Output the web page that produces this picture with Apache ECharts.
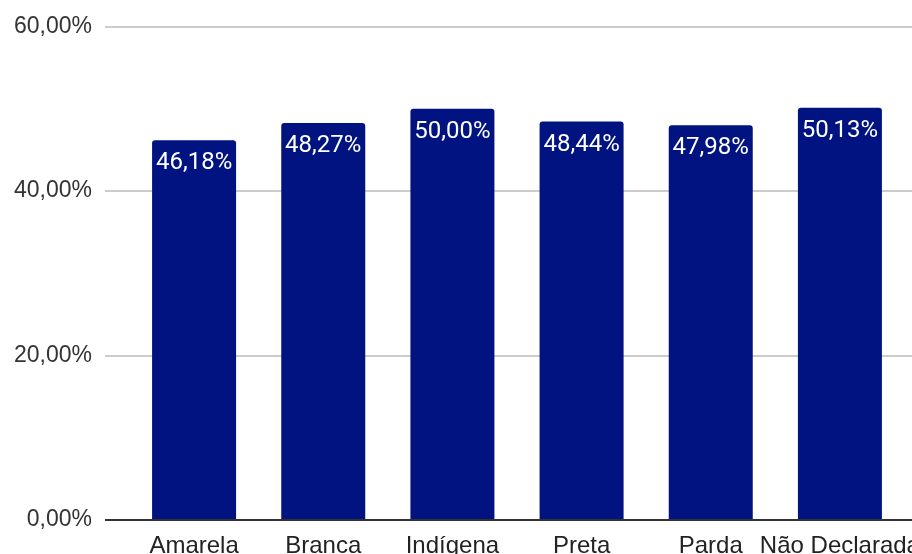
<!DOCTYPE html>
<html>
<head>
<meta charset="utf-8">
<script src="https://cdn.jsdelivr.net/npm/echarts@6/dist/echarts.min.js"></script>
<style>
  html, body { margin: 0; padding: 0; background: #fff; }
  #chart { width: 912px; height: 554px; }
</style>
</head>
<body>
<div id="chart"></div>
<script>
// Share of each group (percent)
const categories = ['Amarela', 'Branca', 'Indígena', 'Preta', 'Parda', 'Não Declarada'];
const values = [46.18, 48.27, 50.00, 48.44, 47.98, 50.13];
const yTicks = [0, 20, 40, 60];

const fmtPct = v => v.toFixed(2).replace('.', ',') + '%';
const labelFont = '"Liberation Sans", Arial, sans-serif';
const valueFont = 'Roboto, "Liberation Sans", Arial, sans-serif';

const chart = echarts.init(document.getElementById('chart'));
chart.setOption({
  backgroundColor: '#ffffff',
  animation: false,
  grid: [
    // full-width plot area for gridlines and the value axis
    { left: 105, right: -20, top: 26.5, bottom: 34, outerBoundsMode: 'none', containLabel: false },
    // inner area where the category bars sit
    { left: 129.5, width: 775, top: 26.5, bottom: 34, outerBoundsMode: 'none', containLabel: false }
  ],
  xAxis: [
    {
      gridIndex: 0, type: 'value', min: 0, max: 1, show: true,
      axisLine: { show: false }, axisTick: { show: false },
      axisLabel: { show: false }, splitLine: { show: false }
    },
    {
      gridIndex: 1, type: 'category', data: categories,
      axisLine: { show: false }, axisTick: { show: false },
      axisLabel: {
        interval: 0, margin: 14, color: '#222',
        fontFamily: labelFont, fontSize: 24
      }
    }
  ],
  yAxis: [
    {
      gridIndex: 0, type: 'value',
      min: yTicks[0], max: yTicks[yTicks.length - 1], interval: 20,
      axisLine: { show: false }, axisTick: { show: false },
      axisLabel: {
        margin: 13, color: '#333', fontFamily: labelFont, fontSize: 23,
        formatter: v => fmtPct(v)
      },
      splitLine: { lineStyle: { color: '#cccccc', width: 2 } }
    },
    {
      gridIndex: 1, type: 'value',
      min: yTicks[0], max: yTicks[yTicks.length - 1], interval: 20,
      show: false, splitLine: { show: false }
    }
  ],
  series: [
    {
      // baseline at 0%
      type: 'line', xAxisIndex: 0, yAxisIndex: 0,
      data: [[0, 0], [1, 0]], symbol: 'none', silent: true,
      lineStyle: { color: '#333333', width: 2 }, z: 5
    },
    {
      type: 'bar', xAxisIndex: 1, yAxisIndex: 1,
      data: values, barWidth: 84,
      itemStyle: { color: '#001380', borderRadius: [3, 3, 0, 0] },
      label: {
        show: true, position: 'insideTop', distance: 11,
        color: '#ffffff', fontFamily: valueFont, fontSize: 24,
        formatter: p => fmtPct(p.value)
      },
      z: 3
    }
  ]
});
</script>
</body>
</html>
